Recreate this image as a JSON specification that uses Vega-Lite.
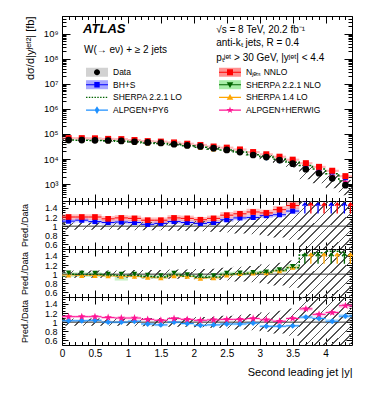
{
"$schema":"https://vega.github.io/schema/vega-lite/v6.json",
"padding":{"left":19,"top":15,"right":5,"bottom":5},
"background":"white",
"spacing":0,
"bounds":"flush",
"datasets":{
"bins":[
{"x":0.1,"xlo":0,"xhi":0.2,"d":57000,"mnn":68400,"mnnlo":61560,"mnnhi":75240,"mbh":63270,"ms2n":58710,"ms2l":57000,"ms14":55860,"mapy":58710,"mahw":63840,"rnn":1.2,"rbh":1.11,"rs2n":1.03,"rs2l":1.0,"rs14":0.98,"rapy":1.03,"rahw":1.12,"nnlo":1.14,"nnhi":1.26,"bhlo":1.06,"bhhi":1.16,"s2lo":0.94,"s2hi":1.04,"aplo":1.0,"aphi":1.06,"ahlo":1.09,"ahhi":1.15},
{"x":0.3,"xlo":0.2,"xhi":0.4,"d":57000,"mnn":68400,"mnnlo":61560,"mnnhi":75240,"mbh":64410,"ms2n":58140,"ms2l":56430,"ms14":55290,"mapy":58710,"mahw":63840,"rnn":1.2,"rbh":1.13,"rs2n":1.02,"rs2l":0.99,"rs14":0.97,"rapy":1.03,"rahw":1.12,"nnlo":1.14,"nnhi":1.26,"bhlo":1.08,"bhhi":1.18,"s2lo":0.94,"s2hi":1.04,"aplo":1.0,"aphi":1.06,"ahlo":1.09,"ahhi":1.15},
{"x":0.5,"xlo":0.4,"xhi":0.6,"d":56000,"mnn":67200,"mnnlo":60480,"mnnhi":73920,"mbh":61600,"ms2n":57120,"ms2l":55440,"ms14":54320,"mapy":58240,"mahw":62720,"rnn":1.2,"rbh":1.1,"rs2n":1.02,"rs2l":0.99,"rs14":0.97,"rapy":1.04,"rahw":1.12,"nnlo":1.14,"nnhi":1.26,"bhlo":1.05,"bhhi":1.15,"s2lo":0.94,"s2hi":1.04,"aplo":1.01,"aphi":1.07,"ahlo":1.09,"ahhi":1.15},
{"x":0.7,"xlo":0.6,"xhi":0.8,"d":55000,"mnn":63800,"mnnlo":57420,"mnnhi":70180,"mbh":59400,"ms2n":55000,"ms2l":53900,"ms14":52800,"mapy":55000,"mahw":60500,"rnn":1.16,"rbh":1.08,"rs2n":1.0,"rs2l":0.98,"rs14":0.96,"rapy":1.0,"rahw":1.1,"nnlo":1.1,"nnhi":1.22,"bhlo":1.03,"bhhi":1.13,"s2lo":0.94,"s2hi":1.02,"aplo":0.97,"aphi":1.03,"ahlo":1.07,"ahhi":1.13},
{"x":0.9,"xlo":0.8,"xhi":1.0,"d":53000,"mnn":62540,"mnnlo":56286,"mnnhi":68794,"mbh":57770,"ms2n":53000,"ms2l":51410,"ms14":50350,"mapy":53000,"mahw":57770,"rnn":1.18,"rbh":1.09,"rs2n":1.0,"rs2l":0.97,"rs14":0.95,"rapy":1.0,"rahw":1.09,"nnlo":1.12,"nnhi":1.24,"bhlo":1.04,"bhhi":1.14,"s2lo":0.86,"s2hi":0.98,"aplo":0.97,"aphi":1.03,"ahlo":1.06,"ahhi":1.12},
{"x":1.1,"xlo":1.0,"xhi":1.2,"d":49000,"mnn":57330,"mnnlo":51597,"mnnhi":63063,"mbh":52920,"ms2n":49000,"ms2l":47530,"ms14":46550,"mapy":49980,"mahw":53410,"rnn":1.17,"rbh":1.08,"rs2n":1.0,"rs2l":0.97,"rs14":0.95,"rapy":1.02,"rahw":1.09,"nnlo":1.11,"nnhi":1.23,"bhlo":1.03,"bhhi":1.13,"s2lo":0.93,"s2hi":1.02,"aplo":0.99,"aphi":1.05,"ahlo":1.06,"ahhi":1.12},
{"x":1.3,"xlo":1.2,"xhi":1.4,"d":46000,"mnn":51980,"mnnlo":46782,"mnnhi":57178,"mbh":47840,"ms2n":45080,"ms2l":43700,"ms14":42780,"mapy":44160,"mahw":48760,"rnn":1.13,"rbh":1.04,"rs2n":0.98,"rs2l":0.95,"rs14":0.93,"rapy":0.96,"rahw":1.06,"nnlo":1.07,"nnhi":1.19,"bhlo":0.99,"bhhi":1.09,"s2lo":0.9,"s2hi":0.99,"aplo":0.93,"aphi":0.99,"ahlo":1.03,"ahhi":1.09},
{"x":1.5,"xlo":1.4,"xhi":1.6,"d":44000,"mnn":49720,"mnnlo":44748,"mnnhi":54692,"mbh":46640,"ms2n":42680,"ms2l":41360,"ms14":40480,"mapy":41360,"mahw":45760,"rnn":1.13,"rbh":1.06,"rs2n":0.97,"rs2l":0.94,"rs14":0.92,"rapy":0.94,"rahw":1.04,"nnlo":1.07,"nnhi":1.19,"bhlo":1.01,"bhhi":1.11,"s2lo":0.9,"s2hi":0.98,"aplo":0.91,"aphi":0.97,"ahlo":1.01,"ahhi":1.07},
{"x":1.7,"xlo":1.6,"xhi":1.8,"d":39000,"mnn":46020,"mnnlo":41418,"mnnhi":50622,"mbh":42900,"ms2n":39780,"ms2l":38220,"ms14":37440,"mapy":39000,"mahw":42120,"rnn":1.18,"rbh":1.1,"rs2n":1.02,"rs2l":0.98,"rs14":0.96,"rapy":1.0,"rahw":1.08,"nnlo":1.12,"nnhi":1.24,"bhlo":1.05,"bhhi":1.15,"s2lo":0.94,"s2hi":1.04,"aplo":0.97,"aphi":1.03,"ahlo":1.05,"ahhi":1.11},
{"x":1.9,"xlo":1.8,"xhi":2.0,"d":35000,"mnn":40950,"mnnlo":36855,"mnnhi":45045,"mbh":37800,"ms2n":34650,"ms2l":33600,"ms14":33250,"mapy":33950,"mahw":37100,"rnn":1.17,"rbh":1.08,"rs2n":0.99,"rs2l":0.96,"rs14":0.95,"rapy":0.97,"rahw":1.06,"nnlo":1.11,"nnhi":1.23,"bhlo":1.03,"bhhi":1.13,"s2lo":0.93,"s2hi":1.01,"aplo":0.94,"aphi":1.0,"ahlo":1.03,"ahhi":1.09},
{"x":2.1,"xlo":2.0,"xhi":2.2,"d":32000,"mnn":36480,"mnnlo":32832,"mnnhi":40128,"mbh":33920,"ms2n":30720,"ms2l":29760,"ms14":29120,"mapy":29760,"mahw":33280,"rnn":1.14,"rbh":1.06,"rs2n":0.96,"rs2l":0.93,"rs14":0.91,"rapy":0.93,"rahw":1.04,"nnlo":1.08,"nnhi":1.2,"bhlo":1.01,"bhhi":1.11,"s2lo":0.89,"s2hi":0.98,"aplo":0.9,"aphi":0.96,"ahlo":1.01,"ahhi":1.07},
{"x":2.3,"xlo":2.2,"xhi":2.4,"d":27000,"mnn":31590,"mnnlo":28431,"mnnhi":34749,"mbh":29160,"ms2n":26190,"ms2l":25380,"ms14":24840,"mapy":25380,"mahw":28350,"rnn":1.17,"rbh":1.08,"rs2n":0.97,"rs2l":0.94,"rs14":0.92,"rapy":0.94,"rahw":1.05,"nnlo":1.11,"nnhi":1.23,"bhlo":1.03,"bhhi":1.13,"s2lo":0.9,"s2hi":0.99,"aplo":0.91,"aphi":0.97,"ahlo":1.02,"ahhi":1.08},
{"x":2.5,"xlo":2.4,"xhi":2.6,"d":23000,"mnn":28520,"mnnlo":25668,"mnnhi":31372,"mbh":26220,"ms2n":23460,"ms2l":22770,"ms14":22540,"mapy":22080,"mahw":24380,"rnn":1.24,"rbh":1.14,"rs2n":1.02,"rs2l":0.99,"rs14":0.98,"rapy":0.96,"rahw":1.06,"nnlo":1.17,"nnhi":1.31,"bhlo":1.09,"bhhi":1.19,"s2lo":0.96,"s2hi":1.05,"aplo":0.93,"aphi":0.99,"ahlo":1.03,"ahhi":1.09},
{"x":2.7,"xlo":2.6,"xhi":2.8,"d":19000,"mnn":24130,"mnnlo":21717,"mnnhi":26543,"mbh":22420,"ms2n":19570,"ms2l":19190,"ms14":19190,"mapy":18240,"mahw":20140,"rnn":1.27,"rbh":1.18,"rs2n":1.03,"rs2l":1.01,"rs14":1.01,"rapy":0.96,"rahw":1.06,"nnlo":1.2,"nnhi":1.34,"bhlo":1.13,"bhhi":1.23,"s2lo":0.97,"s2hi":1.06,"aplo":0.93,"aphi":0.99,"ahlo":1.03,"ahhi":1.09},
{"x":2.9,"xlo":2.8,"xhi":3.0,"d":14500,"mnn":18995,"mnnlo":17096,"mnnhi":20895,"mbh":17255,"ms2n":15080,"ms2l":14790,"ms14":14790,"mapy":14210,"mahw":15660,"rnn":1.31,"rbh":1.19,"rs2n":1.04,"rs2l":1.02,"rs14":1.02,"rapy":0.98,"rahw":1.08,"nnlo":1.24,"nnhi":1.38,"bhlo":1.14,"bhhi":1.24,"s2lo":0.98,"s2hi":1.07,"aplo":0.95,"aphi":1.01,"ahlo":1.05,"ahhi":1.11},
{"x":3.1,"xlo":3.0,"xhi":3.2,"d":12000,"mnn":15480,"mnnlo":13932,"mnnhi":17028,"mbh":14760,"ms2n":12600,"ms2l":12480,"ms14":12360,"mapy":10920,"mahw":12600,"rnn":1.29,"rbh":1.23,"rs2n":1.05,"rs2l":1.04,"rs14":1.03,"rapy":0.91,"rahw":1.05,"nnlo":1.22,"nnhi":1.36,"bhlo":1.18,"bhhi":1.28,"s2lo":0.99,"s2hi":1.08,"aplo":0.88,"aphi":0.94,"ahlo":1.02,"ahhi":1.08},
{"x":3.3,"xlo":3.2,"xhi":3.4,"d":9100,"mnn":12376,"mnnlo":11138,"mnnhi":13614,"mbh":11375,"ms2n":10010,"ms2l":9828,"ms14":9737,"mapy":8281,"mahw":9282,"rnn":1.36,"rbh":1.25,"rs2n":1.1,"rs2l":1.08,"rs14":1.07,"rapy":0.91,"rahw":1.02,"nnlo":1.28,"nnhi":1.44,"bhlo":1.2,"bhhi":1.3,"s2lo":1.04,"s2hi":1.14,"aplo":0.88,"aphi":0.94,"ahlo":0.99,"ahhi":1.05},
{"x":3.5,"xlo":3.4,"xhi":3.6,"d":6500,"mnn":9425,"mnnlo":8483,"mnnhi":10368,"mbh":8645,"ms2n":7605,"ms2l":7410,"ms14":7475,"mapy":5980,"mahw":7020,"rnn":1.45,"rbh":1.33,"rs2n":1.17,"rs2l":1.14,"rs14":1.15,"rapy":0.92,"rahw":1.08,"nnlo":1.37,"nnhi":1.53,"bhlo":1.27,"bhhi":1.39,"s2lo":1.1,"s2hi":1.22,"aplo":0.89,"aphi":0.95,"ahlo":1.05,"ahhi":1.11},
{"x":3.7,"xlo":3.6,"xhi":3.8,"d":3900,"mnn":6825,"mnnlo":6143,"mnnhi":7508,"mbh":6240,"ms2n":6240,"ms2l":5538,"ms14":6435,"mapy":4329,"mahw":5031,"rnn":1.75,"rbh":1.6,"rs2n":1.6,"rs2l":1.42,"rs14":1.65,"rapy":1.11,"rahw":1.29,"nnlo":1.6,"nnhi":1.9,"bhlo":1.6,"bhhi":1.9,"s2lo":1.6,"s2hi":1.9,"aplo":1.07,"aphi":1.15,"ahlo":1.25,"ahhi":1.33},
{"x":3.9,"xlo":3.8,"xhi":4.0,"d":2700,"mnn":4860,"mnnlo":4374,"mnnhi":5346,"mbh":4455,"ms2n":4455,"ms2l":3969,"ms14":4590,"mapy":2916,"mahw":3159,"rnn":1.8,"rbh":1.65,"rs2n":1.65,"rs2l":1.47,"rs14":1.7,"rapy":1.08,"rahw":1.17,"nnlo":1.6,"nnhi":1.9,"bhlo":1.6,"bhhi":1.9,"s2lo":1.6,"s2hi":1.9,"aplo":1.04,"aphi":1.12,"ahlo":1.13,"ahhi":1.21},
{"x":4.1,"xlo":4.0,"xhi":4.2,"d":1700,"mnn":3400,"mnnlo":3060,"mnnhi":3740,"mbh":3060,"ms2n":3145,"ms2l":2550,"ms14":3230,"mapy":1734,"mahw":2057,"rnn":2.0,"rbh":1.8,"rs2n":1.85,"rs2l":1.5,"rs14":1.9,"rapy":1.02,"rahw":1.21,"nnlo":1.6,"nnhi":1.9,"bhlo":1.6,"bhhi":1.9,"s2lo":1.6,"s2hi":1.9,"aplo":0.97,"aphi":1.07,"ahlo":1.17,"ahhi":1.25},
{"x":4.3,"xlo":4.2,"xhi":4.4,"d":900,"mnn":2070,"mnnlo":1863,"mnnhi":2277,"mbh":1800,"ms2n":1800,"ms2l":1332,"ms14":1890,"mapy":1017,"mahw":1224,"rnn":2.3,"rbh":2.0,"rs2n":2.0,"rs2l":1.48,"rs14":2.1,"rapy":1.13,"rahw":1.36,"nnlo":1.6,"nnhi":1.9,"bhlo":1.6,"bhhi":1.9,"s2lo":1.6,"s2hi":1.9,"aplo":1.08,"aphi":1.18,"ahlo":1.31,"ahhi":1.41}
],
"hatch":[
{"xe":0,"dlo":52440,"dhi":61560,"elo":0.92,"ehi":1.08},
{"xe":0.2,"dlo":52440,"dhi":61560,"elo":0.92,"ehi":1.08},
{"xe":0.4,"dlo":51520,"dhi":60480,"elo":0.92,"ehi":1.08},
{"xe":0.6,"dlo":50600,"dhi":59400,"elo":0.92,"ehi":1.08},
{"xe":0.8,"dlo":48760,"dhi":57240,"elo":0.92,"ehi":1.08},
{"xe":1.0,"dlo":44590,"dhi":53410,"elo":0.91,"ehi":1.09},
{"xe":1.2,"dlo":41860,"dhi":50140,"elo":0.91,"ehi":1.09},
{"xe":1.4,"dlo":40040,"dhi":47960,"elo":0.91,"ehi":1.09},
{"xe":1.6,"dlo":35100,"dhi":42900,"elo":0.9,"ehi":1.1},
{"xe":1.8,"dlo":31500,"dhi":38500,"elo":0.9,"ehi":1.1},
{"xe":2.0,"dlo":28480,"dhi":35520,"elo":0.89,"ehi":1.11},
{"xe":2.2,"dlo":23760,"dhi":30240,"elo":0.88,"ehi":1.12},
{"xe":2.4,"dlo":19780,"dhi":26220,"elo":0.86,"ehi":1.14},
{"xe":2.6,"dlo":15960,"dhi":22040,"elo":0.84,"ehi":1.16},
{"xe":2.8,"dlo":11890,"dhi":17110,"elo":0.82,"ehi":1.18},
{"xe":3.0,"dlo":9480,"dhi":14520,"elo":0.79,"ehi":1.21},
{"xe":3.2,"dlo":6825,"dhi":11375,"elo":0.75,"ehi":1.25},
{"xe":3.4,"dlo":4550,"dhi":8450,"elo":0.7,"ehi":1.3},
{"xe":3.6,"dlo":1560,"dhi":6240,"elo":0.4,"ehi":1.6},
{"xe":3.8,"dlo":1080,"dhi":4320,"elo":0.4,"ehi":1.6},
{"xe":4.0,"dlo":680,"dhi":2720,"elo":0.4,"ehi":1.6},
{"xe":4.2,"dlo":360,"dhi":1440,"elo":0.4,"ehi":1.6},
{"xe":4.4,"dlo":360,"dhi":1440,"elo":0.4,"ehi":1.6}
],
"legA":[{"b":"0"},{"b":"1"},{"b":"2"},{"b":"3"},{"b":"4"},{"b":"5"},{"b":"6"},{"b":"7"}],
"legB":[{"s":"Data"},{"s":"BH+S"},{"s":"SHERPA 2.2.1 LO"},{"s":"ALPGEN+PY6"},{"s":"Nⱼₑₜₛ NNLO"},{"s":"SHERPA 2.2.1 NLO"},{"s":"SHERPA 1.4 LO"},{"s":"ALPGEN+HERWIG"}]
},
"config":{
"view":{"stroke":"#000","strokeWidth":1},
"axis":{"domain":false,"grid":false,"ticks":true,"tickColor":"#000","tickWidth":1,"labelFont":"Liberation Sans","labelFontSize":10,"labelColor":"#000","labelFlush":false,"labelOverlap":false,"titleFont":"Liberation Sans","titleFontSize":11,"titleFontWeight":"normal","titleColor":"#000"},
"legend":{"labelFont":"Liberation Sans","labelFontSize":8.5,"labelColor":"#000"},
"text":{"font":"Liberation Sans","color":"#000"}
},
"vconcat":[
{
"width":290,"height":185,
"resolve":{"axis":{"x":"independent","y":"independent"}},
"layer":[
{"data":{"name":"bins"},"mark":{"type":"point","opacity":0},"encoding":{
"x":{"field":"x","type":"quantitative","scale":{"domain":[0,4.4],"nice":false,"zero":false},"axis":{"orient":"bottom","values":[0,0.5,1,1.5,2,2.5,3,3.5,4],"labels":false,"tickSize":-7,"title":null}},
"y":{"field":"d","type":"quantitative","scale":{"type":"log","domain":[210,5200000000],"nice":false},"axis":{"orient":"left","values":[1000,10000,100000,1000000,10000000,100000000,1000000000],"tickSize":-8,"labelPadding":12,"labelFontSize":9.5,"labelExpr":"'10' + ['⁰','¹','²','³','⁴','⁵','⁶','⁷','⁸','⁹'][round(log(datum.value)/LN10)]","title":"dσ/d|yʲᵉᵗ²| [fb]","titleAnchor":"end","titlePadding":8}}}},
{"data":{"name":"bins"},"mark":{"type":"point","opacity":0},"encoding":{
"x":{"field":"x","type":"quantitative","axis":{"orient":"bottom","values":[0.1,0.2,0.3,0.4,0.6,0.7,0.8,0.9,1.1,1.2,1.3,1.4,1.6,1.7,1.8,1.9,2.1,2.2,2.3,2.4,2.6,2.7,2.8,2.9,3.1,3.2,3.3,3.4,3.6,3.7,3.8,3.9,4.1,4.2,4.3],"labels":false,"tickSize":-3.5,"title":null}},
"y":{"field":"d","type":"quantitative","axis":{"orient":"left","values":[300,400,500,600,700,800,900,2000,3000,4000,5000,6000,7000,8000,9000,20000,30000,40000,50000,60000,70000,80000,90000,200000,300000,400000,500000,600000,700000,800000,900000,2e6,3e6,4e6,5e6,6e6,7e6,8e6,9e6,2e7,3e7,4e7,5e7,6e7,7e7,8e7,9e7,2e8,3e8,4e8,5e8,6e8,7e8,8e8,9e8,2e9,3e9,4e9,5e9],"labels":false,"tickSize":-4,"title":null}}}},
{"data":{"name":"bins"},"mark":{"type":"point","opacity":0},"encoding":{
"x":{"field":"x","type":"quantitative","axis":{"orient":"top","values":[0,0.5,1,1.5,2,2.5,3,3.5,4],"labels":false,"tickSize":-7,"title":null}},
"y":{"field":"d","type":"quantitative","axis":{"orient":"right","values":[1000,10000,100000,1000000,10000000,100000000,1000000000],"labels":false,"tickSize":-8,"title":null}}}},
{"data":{"name":"bins"},"mark":{"type":"point","opacity":0},"encoding":{
"x":{"field":"x","type":"quantitative","axis":{"orient":"top","values":[0.1,0.2,0.3,0.4,0.6,0.7,0.8,0.9,1.1,1.2,1.3,1.4,1.6,1.7,1.8,1.9,2.1,2.2,2.3,2.4,2.6,2.7,2.8,2.9,3.1,3.2,3.3,3.4,3.6,3.7,3.8,3.9,4.1,4.2,4.3],"labels":false,"tickSize":-3.5,"title":null}},
"y":{"field":"d","type":"quantitative","axis":{"orient":"right","values":[300,400,500,600,700,800,900,2000,3000,4000,5000,6000,7000,8000,9000,20000,30000,40000,50000,60000,70000,80000,90000,200000,300000,400000,500000,600000,700000,800000,900000,2e6,3e6,4e6,5e6,6e6,7e6,8e6,9e6,2e7,3e7,4e7,5e7,6e7,7e7,8e7,9e7,2e8,3e8,4e8,5e8,6e8,7e8,8e8,9e8,2e9,3e9,4e9,5e9],"labels":false,"tickSize":-4,"title":null}}}},
{"data":{"name":"bins"},"mark":{"type":"rect","color":"#ff7070","opacity":0.5,"clip":true},"encoding":{"x":{"field":"xlo","type":"quantitative","axis":null},"x2":{"field":"xhi"},"y":{"field":"mnnlo","type":"quantitative","axis":null},"y2":{"field":"mnnhi"}}},
{"data":{"name":"hatch"},"mark":{"type":"area","interpolate":"step-after","clip":true,"fill":{"gradient":"linear","x1":0,"y1":0,"x2":1.15,"y2":0.22,"stops":[
{"offset":0,"color":"#555"},{"offset":0.005,"color":"#555"},{"offset":0.005,"color":"transparent"},{"offset":0.025,"color":"transparent"},
{"offset":0.025,"color":"#555"},{"offset":0.03,"color":"#555"},{"offset":0.03,"color":"transparent"},{"offset":0.05,"color":"transparent"},
{"offset":0.05,"color":"#555"},{"offset":0.055,"color":"#555"},{"offset":0.055,"color":"transparent"},{"offset":0.075,"color":"transparent"},
{"offset":0.075,"color":"#555"},{"offset":0.08,"color":"#555"},{"offset":0.08,"color":"transparent"},{"offset":0.1,"color":"transparent"},
{"offset":0.1,"color":"#555"},{"offset":0.105,"color":"#555"},{"offset":0.105,"color":"transparent"},{"offset":0.125,"color":"transparent"},
{"offset":0.125,"color":"#555"},{"offset":0.13,"color":"#555"},{"offset":0.13,"color":"transparent"},{"offset":0.15,"color":"transparent"},
{"offset":0.15,"color":"#555"},{"offset":0.155,"color":"#555"},{"offset":0.155,"color":"transparent"},{"offset":0.175,"color":"transparent"},
{"offset":0.175,"color":"#555"},{"offset":0.18,"color":"#555"},{"offset":0.18,"color":"transparent"},{"offset":0.2,"color":"transparent"},
{"offset":0.2,"color":"#555"},{"offset":0.205,"color":"#555"},{"offset":0.205,"color":"transparent"},{"offset":0.225,"color":"transparent"},
{"offset":0.225,"color":"#555"},{"offset":0.23,"color":"#555"},{"offset":0.23,"color":"transparent"},{"offset":0.25,"color":"transparent"},
{"offset":0.25,"color":"#555"},{"offset":0.255,"color":"#555"},{"offset":0.255,"color":"transparent"},{"offset":0.275,"color":"transparent"},
{"offset":0.275,"color":"#555"},{"offset":0.28,"color":"#555"},{"offset":0.28,"color":"transparent"},{"offset":0.3,"color":"transparent"},
{"offset":0.3,"color":"#555"},{"offset":0.305,"color":"#555"},{"offset":0.305,"color":"transparent"},{"offset":0.325,"color":"transparent"},
{"offset":0.325,"color":"#555"},{"offset":0.33,"color":"#555"},{"offset":0.33,"color":"transparent"},{"offset":0.35,"color":"transparent"},
{"offset":0.35,"color":"#555"},{"offset":0.355,"color":"#555"},{"offset":0.355,"color":"transparent"},{"offset":0.375,"color":"transparent"},
{"offset":0.375,"color":"#555"},{"offset":0.38,"color":"#555"},{"offset":0.38,"color":"transparent"},{"offset":0.4,"color":"transparent"},
{"offset":0.4,"color":"#555"},{"offset":0.405,"color":"#555"},{"offset":0.405,"color":"transparent"},{"offset":0.425,"color":"transparent"},
{"offset":0.425,"color":"#555"},{"offset":0.43,"color":"#555"},{"offset":0.43,"color":"transparent"},{"offset":0.45,"color":"transparent"},
{"offset":0.45,"color":"#555"},{"offset":0.455,"color":"#555"},{"offset":0.455,"color":"transparent"},{"offset":0.475,"color":"transparent"},
{"offset":0.475,"color":"#555"},{"offset":0.48,"color":"#555"},{"offset":0.48,"color":"transparent"},{"offset":0.5,"color":"transparent"},
{"offset":0.5,"color":"#555"},{"offset":0.505,"color":"#555"},{"offset":0.505,"color":"transparent"},{"offset":0.525,"color":"transparent"},
{"offset":0.525,"color":"#555"},{"offset":0.53,"color":"#555"},{"offset":0.53,"color":"transparent"},{"offset":0.55,"color":"transparent"},
{"offset":0.55,"color":"#555"},{"offset":0.555,"color":"#555"},{"offset":0.555,"color":"transparent"},{"offset":0.575,"color":"transparent"},
{"offset":0.575,"color":"#555"},{"offset":0.58,"color":"#555"},{"offset":0.58,"color":"transparent"},{"offset":0.6,"color":"transparent"},
{"offset":0.6,"color":"#555"},{"offset":0.605,"color":"#555"},{"offset":0.605,"color":"transparent"},{"offset":0.625,"color":"transparent"},
{"offset":0.625,"color":"#555"},{"offset":0.63,"color":"#555"},{"offset":0.63,"color":"transparent"},{"offset":0.65,"color":"transparent"},
{"offset":0.65,"color":"#555"},{"offset":0.655,"color":"#555"},{"offset":0.655,"color":"transparent"},{"offset":0.675,"color":"transparent"},
{"offset":0.675,"color":"#555"},{"offset":0.68,"color":"#555"},{"offset":0.68,"color":"transparent"},{"offset":0.7,"color":"transparent"},
{"offset":0.7,"color":"#555"},{"offset":0.705,"color":"#555"},{"offset":0.705,"color":"transparent"},{"offset":0.725,"color":"transparent"},
{"offset":0.725,"color":"#555"},{"offset":0.73,"color":"#555"},{"offset":0.73,"color":"transparent"},{"offset":0.75,"color":"transparent"},
{"offset":0.75,"color":"#555"},{"offset":0.755,"color":"#555"},{"offset":0.755,"color":"transparent"},{"offset":0.775,"color":"transparent"},
{"offset":0.775,"color":"#555"},{"offset":0.78,"color":"#555"},{"offset":0.78,"color":"transparent"},{"offset":0.8,"color":"transparent"},
{"offset":0.8,"color":"#555"},{"offset":0.805,"color":"#555"},{"offset":0.805,"color":"transparent"},{"offset":0.825,"color":"transparent"},
{"offset":0.825,"color":"#555"},{"offset":0.83,"color":"#555"},{"offset":0.83,"color":"transparent"},{"offset":0.85,"color":"transparent"},
{"offset":0.85,"color":"#555"},{"offset":0.855,"color":"#555"},{"offset":0.855,"color":"transparent"},{"offset":0.875,"color":"transparent"},
{"offset":0.875,"color":"#555"},{"offset":0.88,"color":"#555"},{"offset":0.88,"color":"transparent"},{"offset":0.9,"color":"transparent"},
{"offset":0.9,"color":"#555"},{"offset":0.905,"color":"#555"},{"offset":0.905,"color":"transparent"},{"offset":0.925,"color":"transparent"},
{"offset":0.925,"color":"#555"},{"offset":0.93,"color":"#555"},{"offset":0.93,"color":"transparent"},{"offset":0.95,"color":"transparent"},
{"offset":0.95,"color":"#555"},{"offset":0.955,"color":"#555"},{"offset":0.955,"color":"transparent"},{"offset":0.975,"color":"transparent"},
{"offset":0.975,"color":"#555"},{"offset":0.98,"color":"#555"},{"offset":0.98,"color":"transparent"},{"offset":1,"color":"transparent"}
]}},"encoding":{"x":{"field":"xe","type":"quantitative","axis":null},"y":{"field":"dlo","type":"quantitative","axis":null},"y2":{"field":"dhi"}}},
{"data":{"name":"bins"},"mark":{"type":"line","color":"#006400","strokeDash":[2,1.5],"strokeWidth":1.5,"interpolate":"step","clip":true},"encoding":{"x":{"field":"x","type":"quantitative","axis":null},"y":{"field":"ms2l","type":"quantitative","axis":null}}},
{"data":{"name":"bins"},"mark":{"type":"point","shape":"triangle-up","filled":true,"color":"#ffa500","size":28,"opacity":1,"clip":true},"encoding":{"x":{"field":"x","type":"quantitative","axis":null},"y":{"field":"ms14","type":"quantitative","axis":null}}},
{"data":{"name":"bins"},"mark":{"type":"point","shape":"triangle-down","filled":true,"color":"#006400","size":28,"opacity":1,"clip":true},"encoding":{"x":{"field":"x","type":"quantitative","axis":null},"y":{"field":"ms2n","type":"quantitative","axis":null}}},
{"data":{"name":"bins"},"mark":{"type":"point","shape":"diamond","filled":true,"color":"#1e90ff","size":30,"opacity":1,"clip":true},"encoding":{"x":{"field":"x","type":"quantitative","axis":null},"y":{"field":"mapy","type":"quantitative","axis":null}}},
{"data":{"name":"bins"},"mark":{"type":"point","shape":"M0,-1L0.235,-0.324L0.951,-0.309L0.38,0.124L0.588,0.809L0,0.4L-0.588,0.809L-0.38,0.124L-0.951,-0.309L-0.235,-0.324Z","filled":true,"color":"#ff1493","size":55,"opacity":1,"clip":true},"encoding":{"x":{"field":"x","type":"quantitative","axis":null},"y":{"field":"mahw","type":"quantitative","axis":null}}},
{"data":{"name":"bins"},"mark":{"type":"point","shape":"square","filled":true,"color":"#0000ff","size":26,"opacity":1,"clip":true},"encoding":{"x":{"field":"x","type":"quantitative","axis":null},"y":{"field":"mbh","type":"quantitative","axis":null}}},
{"data":{"name":"bins"},"mark":{"type":"point","shape":"square","filled":true,"color":"#ff0000","size":36,"opacity":1,"clip":true},"encoding":{"x":{"field":"x","type":"quantitative","axis":null},"y":{"field":"mnn","type":"quantitative","axis":null}}},
{"data":{"name":"bins"},"mark":{"type":"point","shape":"circle","filled":true,"color":"#000000","size":45,"opacity":1,"clip":true},"encoding":{"x":{"field":"x","type":"quantitative","axis":null},"y":{"field":"d","type":"quantitative","axis":null}}},
{"data":{"values":[{}]},"mark":{"type":"text","text":"ATLAS","fontSize":13,"fontWeight":"bold","fontStyle":"italic","align":"left","baseline":"alphabetic"},"encoding":{"x":{"datum":0.32,"type":"quantitative","axis":null},"y":{"datum":1060000000,"type":"quantitative","axis":null}}},
{"data":{"values":[{}]},"mark":{"type":"text","text":"W(→ eν) + ≥ 2 jets","fontSize":10,"align":"left","baseline":"alphabetic"},"encoding":{"x":{"datum":0.334,"type":"quantitative","axis":null},"y":{"datum":180000000,"type":"quantitative","axis":null}}},
{"data":{"values":[{}]},"mark":{"type":"text","text":"√s = 8 TeV, 20.2 fb⁻¹","fontSize":10,"align":"left","baseline":"alphabetic"},"encoding":{"x":{"datum":2.34,"type":"quantitative","axis":null},"y":{"datum":1120000000,"type":"quantitative","axis":null}}},
{"data":{"values":[{}]},"mark":{"type":"text","text":"anti-kₜ jets, R = 0.4","fontSize":10,"align":"left","baseline":"alphabetic"},"encoding":{"x":{"datum":2.34,"type":"quantitative","axis":null},"y":{"datum":320000000,"type":"quantitative","axis":null}}},
{"data":{"values":[{}]},"mark":{"type":"text","text":"pₜʲᵉᵗ > 30 GeV, |yʲᵉᵗ| < 4.4","fontSize":10,"align":"left","baseline":"alphabetic"},"encoding":{"x":{"datum":2.34,"type":"quantitative","axis":null},"y":{"datum":79000000,"type":"quantitative","axis":null}}},
{"data":{"name":"legA"},"mark":{"type":"point","filled":true,"opacity":1,"size":144},"encoding":{"x":{"field":"x","type":"quantitative","axis":null},"y":{"field":"d","type":"quantitative","axis":null},
"color":{"field":"b","type":"nominal","scale":{"domain":["0","1","2","3","4","5","6","7"],"range":["#d2d2d2","#a8a8ff","transparent","transparent","#ff9090","#a8eea8","transparent","transparent"]},
"legend":{"orient":"none","legendX":29,"legendY":50,"columns":2,"columnPadding":36,"rowPadding":1.7,"symbolType":"M-1.83,-0.75H1.83V0.75H-1.83Z","symbolSize":144,"symbolStrokeWidth":0,"labelOffset":10,"labelOpacity":0,"title":null,"padding":0,"labelExpr":"['Data','BH+S','SHERPA 2.2.1 LO','ALPGEN+PY6','Nⱼₑₜₛ NNLO','SHERPA 2.2.1 NLO','SHERPA 1.4 LO','ALPGEN+HERWIG'][toNumber(datum.label)]"}}}},
{"data":{"name":"legB"},"mark":{"type":"point","filled":true,"opacity":1,"size":144},"encoding":{"x":{"field":"x","type":"quantitative","axis":null},"y":{"field":"d","type":"quantitative","axis":null},
"fill":{"field":"s","type":"nominal","scale":{"domain":["Data","BH+S","SHERPA 2.2.1 LO","ALPGEN+PY6","Nⱼₑₜₛ NNLO","SHERPA 2.2.1 NLO","SHERPA 1.4 LO","ALPGEN+HERWIG"],"range":["#000000","#0000ff","#006400","#1e90ff","#ff0000","#006400","#ffa500","#ff1493"]},
"legend":{"orient":"none","legendX":29,"legendY":50,"columns":2,"columnPadding":36,"rowPadding":1.7,"symbolSize":144,"symbolStrokeWidth":0,"labelOffset":10,"title":null,"padding":0}},
"shape":{"field":"s","type":"nominal","scale":{"domain":["Data","BH+S","SHERPA 2.2.1 LO","ALPGEN+PY6","Nⱼₑₜₛ NNLO","SHERPA 2.2.1 NLO","SHERPA 1.4 LO","ALPGEN+HERWIG"],"range":[
"M-0.5,0A0.5,0.5 0 1,1 0.5,0A0.5,0.5 0 1,1 -0.5,0Z",
"M-1.83,-0.09H1.83V0.09H-1.83ZM-0.45,-0.45H0.45V0.45H-0.45Z",
"M-1.83,-0.11h0.24v0.22h-0.24ZM-1.36,-0.11h0.24v0.22h-0.24ZM-0.89,-0.11h0.24v0.22h-0.24ZM-0.42,-0.11h0.24v0.22h-0.24ZM0.05,-0.11h0.24v0.22h-0.24ZM0.52,-0.11h0.24v0.22h-0.24ZM0.99,-0.11h0.24v0.22h-0.24ZM1.46,-0.11h0.24v0.22h-0.24Z",
"M-1.83,-0.09H1.83V0.09H-1.83ZM0,-0.65L0.4,0L0,0.65L-0.4,0Z",
"M-1.83,-0.09H1.83V0.09H-1.83ZM-0.5,-0.5H0.5V0.5H-0.5Z",
"M-1.83,-0.09H1.83V0.09H-1.83ZM-0.55,-0.4H0.55L0,0.55Z",
"M-1.83,-0.09H1.83V0.09H-1.83ZM0.55,0.4H-0.55L0,-0.55Z",
"M-1.83,-0.09H1.83V0.09H-1.83ZM0,-0.6L0.141,-0.194L0.571,-0.185L0.228,0.074L0.353,0.485L0,0.24L-0.353,0.485L-0.228,0.074L-0.571,-0.185L-0.141,-0.194Z"]},
"legend":{"orient":"none","legendX":29,"legendY":50,"columns":2,"columnPadding":36,"rowPadding":1.7,"symbolSize":144,"symbolStrokeWidth":0,"labelOffset":10,"title":null,"padding":0}}}}
]
},
{
"width":290,"height":48,
"resolve":{"axis":{"x":"independent","y":"independent"}},
"layer":[
{"data":{"name":"bins"},"mark":{"type":"point","opacity":0},"encoding":{
"x":{"field":"x","type":"quantitative","scale":{"domain":[0,4.4],"nice":false,"zero":false},"axis":{"orient":"bottom","values":[0,0.5,1,1.5,2,2.5,3,3.5,4],"labels":false,"tickSize":-7,"title":null}},
"y":{"field":"rapy","type":"quantitative","scale":{"domain":[0.5,1.55],"nice":false,"zero":false},"axis":{"orient":"left","values":[0.6,0.8,1,1.2,1.4],"tickSize":-6,"labelPadding":11,"labelFontSize":9,"format":"~g","title":"Pred./Data","titleFontSize":9,"titlePadding":15}}}},
{"data":{"name":"bins"},"mark":{"type":"point","opacity":0},"encoding":{
"x":{"field":"x","type":"quantitative","axis":{"orient":"bottom","values":[0.1,0.2,0.3,0.4,0.6,0.7,0.8,0.9,1.1,1.2,1.3,1.4,1.6,1.7,1.8,1.9,2.1,2.2,2.3,2.4,2.6,2.7,2.8,2.9,3.1,3.2,3.3,3.4,3.6,3.7,3.8,3.9,4.1,4.2,4.3],"labels":false,"tickSize":-3.5,"title":null}},
"y":{"field":"rapy","type":"quantitative","axis":{"orient":"left","values":[0.55,0.65,0.7,0.75,0.85,0.9,0.95,1.05,1.1,1.15,1.25,1.3,1.35,1.45,1.5],"labels":false,"tickSize":-3,"title":null}}}},
{"data":{"name":"bins"},"mark":{"type":"point","opacity":0},"encoding":{
"x":{"field":"x","type":"quantitative","axis":{"orient":"top","values":[0,0.5,1,1.5,2,2.5,3,3.5,4],"labels":false,"tickSize":-7,"title":null}},
"y":{"field":"rapy","type":"quantitative","axis":{"orient":"right","values":[0.6,0.8,1,1.2,1.4],"labels":false,"tickSize":-6,"title":null}}}},
{"data":{"name":"bins"},"mark":{"type":"point","opacity":0},"encoding":{
"x":{"field":"x","type":"quantitative","axis":{"orient":"top","values":[0.1,0.2,0.3,0.4,0.6,0.7,0.8,0.9,1.1,1.2,1.3,1.4,1.6,1.7,1.8,1.9,2.1,2.2,2.3,2.4,2.6,2.7,2.8,2.9,3.1,3.2,3.3,3.4,3.6,3.7,3.8,3.9,4.1,4.2,4.3],"labels":false,"tickSize":-3.5,"title":null}},
"y":{"field":"rapy","type":"quantitative","axis":{"orient":"right","values":[0.55,0.65,0.7,0.75,0.85,0.9,0.95,1.05,1.1,1.15,1.25,1.3,1.35,1.45,1.5],"labels":false,"tickSize":-3,"title":null}}}},
{"data":{"name":"bins"},"mark":{"type":"rect","color":"#9090ff","opacity":0.45,"clip":true},"encoding":{"x":{"field":"xlo","type":"quantitative","axis":null},"x2":{"field":"xhi"},"y":{"field":"bhlo","type":"quantitative","axis":null},"y2":{"field":"bhhi"}}},
{"data":{"name":"bins"},"mark":{"type":"rect","color":"#ff7070","opacity":0.45,"clip":true},"encoding":{"x":{"field":"xlo","type":"quantitative","axis":null},"x2":{"field":"xhi"},"y":{"field":"nnlo","type":"quantitative","axis":null},"y2":{"field":"nnhi"}}},
{"data":{"name":"hatch"},"mark":{"type":"area","interpolate":"step-after","clip":true,"fill":{"gradient":"linear","x1":0,"y1":0,"x2":1.15,"y2":0.22,"stops":[
{"offset":0,"color":"#555"},{"offset":0.005,"color":"#555"},{"offset":0.005,"color":"transparent"},{"offset":0.025,"color":"transparent"},
{"offset":0.025,"color":"#555"},{"offset":0.03,"color":"#555"},{"offset":0.03,"color":"transparent"},{"offset":0.05,"color":"transparent"},
{"offset":0.05,"color":"#555"},{"offset":0.055,"color":"#555"},{"offset":0.055,"color":"transparent"},{"offset":0.075,"color":"transparent"},
{"offset":0.075,"color":"#555"},{"offset":0.08,"color":"#555"},{"offset":0.08,"color":"transparent"},{"offset":0.1,"color":"transparent"},
{"offset":0.1,"color":"#555"},{"offset":0.105,"color":"#555"},{"offset":0.105,"color":"transparent"},{"offset":0.125,"color":"transparent"},
{"offset":0.125,"color":"#555"},{"offset":0.13,"color":"#555"},{"offset":0.13,"color":"transparent"},{"offset":0.15,"color":"transparent"},
{"offset":0.15,"color":"#555"},{"offset":0.155,"color":"#555"},{"offset":0.155,"color":"transparent"},{"offset":0.175,"color":"transparent"},
{"offset":0.175,"color":"#555"},{"offset":0.18,"color":"#555"},{"offset":0.18,"color":"transparent"},{"offset":0.2,"color":"transparent"},
{"offset":0.2,"color":"#555"},{"offset":0.205,"color":"#555"},{"offset":0.205,"color":"transparent"},{"offset":0.225,"color":"transparent"},
{"offset":0.225,"color":"#555"},{"offset":0.23,"color":"#555"},{"offset":0.23,"color":"transparent"},{"offset":0.25,"color":"transparent"},
{"offset":0.25,"color":"#555"},{"offset":0.255,"color":"#555"},{"offset":0.255,"color":"transparent"},{"offset":0.275,"color":"transparent"},
{"offset":0.275,"color":"#555"},{"offset":0.28,"color":"#555"},{"offset":0.28,"color":"transparent"},{"offset":0.3,"color":"transparent"},
{"offset":0.3,"color":"#555"},{"offset":0.305,"color":"#555"},{"offset":0.305,"color":"transparent"},{"offset":0.325,"color":"transparent"},
{"offset":0.325,"color":"#555"},{"offset":0.33,"color":"#555"},{"offset":0.33,"color":"transparent"},{"offset":0.35,"color":"transparent"},
{"offset":0.35,"color":"#555"},{"offset":0.355,"color":"#555"},{"offset":0.355,"color":"transparent"},{"offset":0.375,"color":"transparent"},
{"offset":0.375,"color":"#555"},{"offset":0.38,"color":"#555"},{"offset":0.38,"color":"transparent"},{"offset":0.4,"color":"transparent"},
{"offset":0.4,"color":"#555"},{"offset":0.405,"color":"#555"},{"offset":0.405,"color":"transparent"},{"offset":0.425,"color":"transparent"},
{"offset":0.425,"color":"#555"},{"offset":0.43,"color":"#555"},{"offset":0.43,"color":"transparent"},{"offset":0.45,"color":"transparent"},
{"offset":0.45,"color":"#555"},{"offset":0.455,"color":"#555"},{"offset":0.455,"color":"transparent"},{"offset":0.475,"color":"transparent"},
{"offset":0.475,"color":"#555"},{"offset":0.48,"color":"#555"},{"offset":0.48,"color":"transparent"},{"offset":0.5,"color":"transparent"},
{"offset":0.5,"color":"#555"},{"offset":0.505,"color":"#555"},{"offset":0.505,"color":"transparent"},{"offset":0.525,"color":"transparent"},
{"offset":0.525,"color":"#555"},{"offset":0.53,"color":"#555"},{"offset":0.53,"color":"transparent"},{"offset":0.55,"color":"transparent"},
{"offset":0.55,"color":"#555"},{"offset":0.555,"color":"#555"},{"offset":0.555,"color":"transparent"},{"offset":0.575,"color":"transparent"},
{"offset":0.575,"color":"#555"},{"offset":0.58,"color":"#555"},{"offset":0.58,"color":"transparent"},{"offset":0.6,"color":"transparent"},
{"offset":0.6,"color":"#555"},{"offset":0.605,"color":"#555"},{"offset":0.605,"color":"transparent"},{"offset":0.625,"color":"transparent"},
{"offset":0.625,"color":"#555"},{"offset":0.63,"color":"#555"},{"offset":0.63,"color":"transparent"},{"offset":0.65,"color":"transparent"},
{"offset":0.65,"color":"#555"},{"offset":0.655,"color":"#555"},{"offset":0.655,"color":"transparent"},{"offset":0.675,"color":"transparent"},
{"offset":0.675,"color":"#555"},{"offset":0.68,"color":"#555"},{"offset":0.68,"color":"transparent"},{"offset":0.7,"color":"transparent"},
{"offset":0.7,"color":"#555"},{"offset":0.705,"color":"#555"},{"offset":0.705,"color":"transparent"},{"offset":0.725,"color":"transparent"},
{"offset":0.725,"color":"#555"},{"offset":0.73,"color":"#555"},{"offset":0.73,"color":"transparent"},{"offset":0.75,"color":"transparent"},
{"offset":0.75,"color":"#555"},{"offset":0.755,"color":"#555"},{"offset":0.755,"color":"transparent"},{"offset":0.775,"color":"transparent"},
{"offset":0.775,"color":"#555"},{"offset":0.78,"color":"#555"},{"offset":0.78,"color":"transparent"},{"offset":0.8,"color":"transparent"},
{"offset":0.8,"color":"#555"},{"offset":0.805,"color":"#555"},{"offset":0.805,"color":"transparent"},{"offset":0.825,"color":"transparent"},
{"offset":0.825,"color":"#555"},{"offset":0.83,"color":"#555"},{"offset":0.83,"color":"transparent"},{"offset":0.85,"color":"transparent"},
{"offset":0.85,"color":"#555"},{"offset":0.855,"color":"#555"},{"offset":0.855,"color":"transparent"},{"offset":0.875,"color":"transparent"},
{"offset":0.875,"color":"#555"},{"offset":0.88,"color":"#555"},{"offset":0.88,"color":"transparent"},{"offset":0.9,"color":"transparent"},
{"offset":0.9,"color":"#555"},{"offset":0.905,"color":"#555"},{"offset":0.905,"color":"transparent"},{"offset":0.925,"color":"transparent"},
{"offset":0.925,"color":"#555"},{"offset":0.93,"color":"#555"},{"offset":0.93,"color":"transparent"},{"offset":0.95,"color":"transparent"},
{"offset":0.95,"color":"#555"},{"offset":0.955,"color":"#555"},{"offset":0.955,"color":"transparent"},{"offset":0.975,"color":"transparent"},
{"offset":0.975,"color":"#555"},{"offset":0.98,"color":"#555"},{"offset":0.98,"color":"transparent"},{"offset":1,"color":"transparent"}
]}},"encoding":{"x":{"field":"xe","type":"quantitative","axis":null},"y":{"field":"elo","type":"quantitative","axis":null},"y2":{"field":"ehi"}}},
{"data":{"values":[{}]},"mark":{"type":"rule","color":"#333333","strokeWidth":1},"encoding":{"y":{"datum":1,"type":"quantitative","axis":null}}},
{"data":{"name":"bins"},"mark":{"type":"rule","color":"#0000ff","strokeWidth":1,"clip":true},"encoding":{"x":{"field":"xlo","type":"quantitative","axis":null},"x2":{"field":"xhi"},"y":{"field":"rbh","type":"quantitative","axis":null}}},
{"data":{"name":"bins"},"mark":{"type":"rule","color":"#ff0000","strokeWidth":1,"clip":true},"encoding":{"x":{"field":"xlo","type":"quantitative","axis":null},"x2":{"field":"xhi"},"y":{"field":"rnn","type":"quantitative","axis":null}}},
{"data":{"name":"bins"},"mark":{"type":"point","shape":"square","filled":true,"color":"#0000ff","size":26,"opacity":1,"clip":true},"encoding":{"x":{"field":"x","type":"quantitative","axis":null},"y":{"field":"rbh","type":"quantitative","axis":null}}},
{"data":{"name":"bins"},"mark":{"type":"point","shape":"square","filled":true,"color":"#ff0000","size":32,"opacity":1,"clip":true},"encoding":{"x":{"field":"x","type":"quantitative","axis":null},"y":{"field":"rnn","type":"quantitative","axis":null}}},
{"data":{"name":"bins"},"transform":[{"filter":"datum.x > 3.6"}],"mark":{"type":"point","shape":"M0,1L0,-1M-0.45,-0.45L0,-1L0.45,-0.45","filled":false,"color":"#0000ff","strokeWidth":1.3,"size":110,"opacity":1,"xOffset":-1},"encoding":{"x":{"field":"x","type":"quantitative","axis":null},"y":{"datum":1.39,"type":"quantitative","axis":null}}},
{"data":{"name":"bins"},"transform":[{"filter":"datum.x > 3.6"}],"mark":{"type":"point","shape":"M0,1L0,-1M-0.45,-0.45L0,-1L0.45,-0.45","filled":false,"color":"#ff0000","strokeWidth":1.3,"size":110,"opacity":1,"xOffset":5},"encoding":{"x":{"field":"x","type":"quantitative","axis":null},"y":{"datum":1.39,"type":"quantitative","axis":null}}}
]
},
{
"width":290,"height":48,
"resolve":{"axis":{"x":"independent","y":"independent"}},
"layer":[
{"data":{"name":"bins"},"mark":{"type":"point","opacity":0},"encoding":{
"x":{"field":"x","type":"quantitative","scale":{"domain":[0,4.4],"nice":false,"zero":false},"axis":{"orient":"bottom","values":[0,0.5,1,1.5,2,2.5,3,3.5,4],"labels":false,"tickSize":-7,"title":null}},
"y":{"field":"rapy","type":"quantitative","scale":{"domain":[0.5,1.55],"nice":false,"zero":false},"axis":{"orient":"left","values":[0.6,0.8,1,1.2,1.4],"tickSize":-6,"labelPadding":11,"labelFontSize":9,"format":"~g","title":"Pred./Data","titleFontSize":9,"titlePadding":15}}}},
{"data":{"name":"bins"},"mark":{"type":"point","opacity":0},"encoding":{
"x":{"field":"x","type":"quantitative","axis":{"orient":"bottom","values":[0.1,0.2,0.3,0.4,0.6,0.7,0.8,0.9,1.1,1.2,1.3,1.4,1.6,1.7,1.8,1.9,2.1,2.2,2.3,2.4,2.6,2.7,2.8,2.9,3.1,3.2,3.3,3.4,3.6,3.7,3.8,3.9,4.1,4.2,4.3],"labels":false,"tickSize":-3.5,"title":null}},
"y":{"field":"rapy","type":"quantitative","axis":{"orient":"left","values":[0.55,0.65,0.7,0.75,0.85,0.9,0.95,1.05,1.1,1.15,1.25,1.3,1.35,1.45,1.5],"labels":false,"tickSize":-3,"title":null}}}},
{"data":{"name":"bins"},"mark":{"type":"point","opacity":0},"encoding":{
"x":{"field":"x","type":"quantitative","axis":{"orient":"top","values":[0,0.5,1,1.5,2,2.5,3,3.5,4],"labels":false,"tickSize":-7,"title":null}},
"y":{"field":"rapy","type":"quantitative","axis":{"orient":"right","values":[0.6,0.8,1,1.2,1.4],"labels":false,"tickSize":-6,"title":null}}}},
{"data":{"name":"bins"},"mark":{"type":"point","opacity":0},"encoding":{
"x":{"field":"x","type":"quantitative","axis":{"orient":"top","values":[0.1,0.2,0.3,0.4,0.6,0.7,0.8,0.9,1.1,1.2,1.3,1.4,1.6,1.7,1.8,1.9,2.1,2.2,2.3,2.4,2.6,2.7,2.8,2.9,3.1,3.2,3.3,3.4,3.6,3.7,3.8,3.9,4.1,4.2,4.3],"labels":false,"tickSize":-3.5,"title":null}},
"y":{"field":"rapy","type":"quantitative","axis":{"orient":"right","values":[0.55,0.65,0.7,0.75,0.85,0.9,0.95,1.05,1.1,1.15,1.25,1.3,1.35,1.45,1.5],"labels":false,"tickSize":-3,"title":null}}}},
{"data":{"name":"bins"},"mark":{"type":"rect","color":"#80e080","opacity":0.45,"clip":true},"encoding":{"x":{"field":"xlo","type":"quantitative","axis":null},"x2":{"field":"xhi"},"y":{"field":"s2lo","type":"quantitative","axis":null},"y2":{"field":"s2hi"}}},
{"data":{"name":"hatch"},"mark":{"type":"area","interpolate":"step-after","clip":true,"fill":{"gradient":"linear","x1":0,"y1":0,"x2":1.15,"y2":0.22,"stops":[
{"offset":0,"color":"#555"},{"offset":0.005,"color":"#555"},{"offset":0.005,"color":"transparent"},{"offset":0.025,"color":"transparent"},
{"offset":0.025,"color":"#555"},{"offset":0.03,"color":"#555"},{"offset":0.03,"color":"transparent"},{"offset":0.05,"color":"transparent"},
{"offset":0.05,"color":"#555"},{"offset":0.055,"color":"#555"},{"offset":0.055,"color":"transparent"},{"offset":0.075,"color":"transparent"},
{"offset":0.075,"color":"#555"},{"offset":0.08,"color":"#555"},{"offset":0.08,"color":"transparent"},{"offset":0.1,"color":"transparent"},
{"offset":0.1,"color":"#555"},{"offset":0.105,"color":"#555"},{"offset":0.105,"color":"transparent"},{"offset":0.125,"color":"transparent"},
{"offset":0.125,"color":"#555"},{"offset":0.13,"color":"#555"},{"offset":0.13,"color":"transparent"},{"offset":0.15,"color":"transparent"},
{"offset":0.15,"color":"#555"},{"offset":0.155,"color":"#555"},{"offset":0.155,"color":"transparent"},{"offset":0.175,"color":"transparent"},
{"offset":0.175,"color":"#555"},{"offset":0.18,"color":"#555"},{"offset":0.18,"color":"transparent"},{"offset":0.2,"color":"transparent"},
{"offset":0.2,"color":"#555"},{"offset":0.205,"color":"#555"},{"offset":0.205,"color":"transparent"},{"offset":0.225,"color":"transparent"},
{"offset":0.225,"color":"#555"},{"offset":0.23,"color":"#555"},{"offset":0.23,"color":"transparent"},{"offset":0.25,"color":"transparent"},
{"offset":0.25,"color":"#555"},{"offset":0.255,"color":"#555"},{"offset":0.255,"color":"transparent"},{"offset":0.275,"color":"transparent"},
{"offset":0.275,"color":"#555"},{"offset":0.28,"color":"#555"},{"offset":0.28,"color":"transparent"},{"offset":0.3,"color":"transparent"},
{"offset":0.3,"color":"#555"},{"offset":0.305,"color":"#555"},{"offset":0.305,"color":"transparent"},{"offset":0.325,"color":"transparent"},
{"offset":0.325,"color":"#555"},{"offset":0.33,"color":"#555"},{"offset":0.33,"color":"transparent"},{"offset":0.35,"color":"transparent"},
{"offset":0.35,"color":"#555"},{"offset":0.355,"color":"#555"},{"offset":0.355,"color":"transparent"},{"offset":0.375,"color":"transparent"},
{"offset":0.375,"color":"#555"},{"offset":0.38,"color":"#555"},{"offset":0.38,"color":"transparent"},{"offset":0.4,"color":"transparent"},
{"offset":0.4,"color":"#555"},{"offset":0.405,"color":"#555"},{"offset":0.405,"color":"transparent"},{"offset":0.425,"color":"transparent"},
{"offset":0.425,"color":"#555"},{"offset":0.43,"color":"#555"},{"offset":0.43,"color":"transparent"},{"offset":0.45,"color":"transparent"},
{"offset":0.45,"color":"#555"},{"offset":0.455,"color":"#555"},{"offset":0.455,"color":"transparent"},{"offset":0.475,"color":"transparent"},
{"offset":0.475,"color":"#555"},{"offset":0.48,"color":"#555"},{"offset":0.48,"color":"transparent"},{"offset":0.5,"color":"transparent"},
{"offset":0.5,"color":"#555"},{"offset":0.505,"color":"#555"},{"offset":0.505,"color":"transparent"},{"offset":0.525,"color":"transparent"},
{"offset":0.525,"color":"#555"},{"offset":0.53,"color":"#555"},{"offset":0.53,"color":"transparent"},{"offset":0.55,"color":"transparent"},
{"offset":0.55,"color":"#555"},{"offset":0.555,"color":"#555"},{"offset":0.555,"color":"transparent"},{"offset":0.575,"color":"transparent"},
{"offset":0.575,"color":"#555"},{"offset":0.58,"color":"#555"},{"offset":0.58,"color":"transparent"},{"offset":0.6,"color":"transparent"},
{"offset":0.6,"color":"#555"},{"offset":0.605,"color":"#555"},{"offset":0.605,"color":"transparent"},{"offset":0.625,"color":"transparent"},
{"offset":0.625,"color":"#555"},{"offset":0.63,"color":"#555"},{"offset":0.63,"color":"transparent"},{"offset":0.65,"color":"transparent"},
{"offset":0.65,"color":"#555"},{"offset":0.655,"color":"#555"},{"offset":0.655,"color":"transparent"},{"offset":0.675,"color":"transparent"},
{"offset":0.675,"color":"#555"},{"offset":0.68,"color":"#555"},{"offset":0.68,"color":"transparent"},{"offset":0.7,"color":"transparent"},
{"offset":0.7,"color":"#555"},{"offset":0.705,"color":"#555"},{"offset":0.705,"color":"transparent"},{"offset":0.725,"color":"transparent"},
{"offset":0.725,"color":"#555"},{"offset":0.73,"color":"#555"},{"offset":0.73,"color":"transparent"},{"offset":0.75,"color":"transparent"},
{"offset":0.75,"color":"#555"},{"offset":0.755,"color":"#555"},{"offset":0.755,"color":"transparent"},{"offset":0.775,"color":"transparent"},
{"offset":0.775,"color":"#555"},{"offset":0.78,"color":"#555"},{"offset":0.78,"color":"transparent"},{"offset":0.8,"color":"transparent"},
{"offset":0.8,"color":"#555"},{"offset":0.805,"color":"#555"},{"offset":0.805,"color":"transparent"},{"offset":0.825,"color":"transparent"},
{"offset":0.825,"color":"#555"},{"offset":0.83,"color":"#555"},{"offset":0.83,"color":"transparent"},{"offset":0.85,"color":"transparent"},
{"offset":0.85,"color":"#555"},{"offset":0.855,"color":"#555"},{"offset":0.855,"color":"transparent"},{"offset":0.875,"color":"transparent"},
{"offset":0.875,"color":"#555"},{"offset":0.88,"color":"#555"},{"offset":0.88,"color":"transparent"},{"offset":0.9,"color":"transparent"},
{"offset":0.9,"color":"#555"},{"offset":0.905,"color":"#555"},{"offset":0.905,"color":"transparent"},{"offset":0.925,"color":"transparent"},
{"offset":0.925,"color":"#555"},{"offset":0.93,"color":"#555"},{"offset":0.93,"color":"transparent"},{"offset":0.95,"color":"transparent"},
{"offset":0.95,"color":"#555"},{"offset":0.955,"color":"#555"},{"offset":0.955,"color":"transparent"},{"offset":0.975,"color":"transparent"},
{"offset":0.975,"color":"#555"},{"offset":0.98,"color":"#555"},{"offset":0.98,"color":"transparent"},{"offset":1,"color":"transparent"}
]}},"encoding":{"x":{"field":"xe","type":"quantitative","axis":null},"y":{"field":"elo","type":"quantitative","axis":null},"y2":{"field":"ehi"}}},
{"data":{"values":[{}]},"mark":{"type":"rule","color":"#333333","strokeWidth":1},"encoding":{"y":{"datum":1,"type":"quantitative","axis":null}}},
{"data":{"name":"bins"},"mark":{"type":"rule","color":"#ffaa33","strokeWidth":1,"clip":true},"encoding":{"x":{"field":"xlo","type":"quantitative","axis":null},"x2":{"field":"xhi"},"y":{"field":"rs14","type":"quantitative","axis":null}}},
{"data":{"name":"bins"},"mark":{"type":"line","color":"#006400","strokeDash":[2,1.5],"strokeWidth":1.5,"interpolate":"step","clip":true},"encoding":{"x":{"field":"x","type":"quantitative","axis":null},"y":{"field":"rs2l","type":"quantitative","axis":null}}},
{"data":{"name":"bins"},"mark":{"type":"point","shape":"triangle-up","filled":true,"color":"#ffa500","size":30,"opacity":1,"clip":true},"encoding":{"x":{"field":"x","type":"quantitative","axis":null},"y":{"field":"rs14","type":"quantitative","axis":null}}},
{"data":{"name":"bins"},"mark":{"type":"point","shape":"triangle-down","filled":true,"color":"#006400","size":30,"opacity":1,"clip":true},"encoding":{"x":{"field":"x","type":"quantitative","axis":null},"y":{"field":"rs2n","type":"quantitative","axis":null}}},
{"data":{"name":"bins"},"transform":[{"filter":"datum.x > 3.6"}],"mark":{"type":"point","shape":"M0,1L0,-1M-0.45,-0.45L0,-1L0.45,-0.45","filled":false,"color":"#006400","strokeWidth":1.3,"size":110,"opacity":1,"xOffset":-1},"encoding":{"x":{"field":"x","type":"quantitative","axis":null},"y":{"datum":1.34,"type":"quantitative","axis":null}}},
{"data":{"name":"bins"},"transform":[{"filter":"datum.x > 3.6"}],"mark":{"type":"point","shape":"M0,1L0,-1M-0.45,-0.45L0,-1L0.45,-0.45","filled":false,"color":"#ffa500","strokeWidth":1.3,"size":110,"opacity":1,"xOffset":5},"encoding":{"x":{"field":"x","type":"quantitative","axis":null},"y":{"datum":1.34,"type":"quantitative","axis":null}}}
]
},
{
"width":290,"height":48,
"resolve":{"axis":{"x":"independent","y":"independent"}},
"layer":[
{"data":{"name":"bins"},"mark":{"type":"point","opacity":0},"encoding":{
"x":{"field":"x","type":"quantitative","scale":{"domain":[0,4.4],"nice":false,"zero":false},"axis":{"orient":"bottom","values":[0,0.5,1,1.5,2,2.5,3,3.5,4],"labels":true,"format":"~g","tickSize":-7,"labelPadding":10,"title":"Second leading jet |y|","titleAnchor":"end","titlePadding":8}},
"y":{"field":"rapy","type":"quantitative","scale":{"domain":[0.5,1.55],"nice":false,"zero":false},"axis":{"orient":"left","values":[0.6,0.8,1,1.2,1.4],"tickSize":-6,"labelPadding":11,"labelFontSize":9,"format":"~g","title":"Pred./Data","titleFontSize":9,"titlePadding":15}}}},
{"data":{"name":"bins"},"mark":{"type":"point","opacity":0},"encoding":{
"x":{"field":"x","type":"quantitative","axis":{"orient":"bottom","values":[0.1,0.2,0.3,0.4,0.6,0.7,0.8,0.9,1.1,1.2,1.3,1.4,1.6,1.7,1.8,1.9,2.1,2.2,2.3,2.4,2.6,2.7,2.8,2.9,3.1,3.2,3.3,3.4,3.6,3.7,3.8,3.9,4.1,4.2,4.3],"labels":false,"tickSize":-3.5,"title":null}},
"y":{"field":"rapy","type":"quantitative","axis":{"orient":"left","values":[0.55,0.65,0.7,0.75,0.85,0.9,0.95,1.05,1.1,1.15,1.25,1.3,1.35,1.45,1.5],"labels":false,"tickSize":-3,"title":null}}}},
{"data":{"name":"bins"},"mark":{"type":"point","opacity":0},"encoding":{
"x":{"field":"x","type":"quantitative","axis":{"orient":"top","values":[0,0.5,1,1.5,2,2.5,3,3.5,4],"labels":false,"tickSize":-7,"title":null}},
"y":{"field":"rapy","type":"quantitative","axis":{"orient":"right","values":[0.6,0.8,1,1.2,1.4],"labels":false,"tickSize":-6,"title":null}}}},
{"data":{"name":"bins"},"mark":{"type":"point","opacity":0},"encoding":{
"x":{"field":"x","type":"quantitative","axis":{"orient":"top","values":[0.1,0.2,0.3,0.4,0.6,0.7,0.8,0.9,1.1,1.2,1.3,1.4,1.6,1.7,1.8,1.9,2.1,2.2,2.3,2.4,2.6,2.7,2.8,2.9,3.1,3.2,3.3,3.4,3.6,3.7,3.8,3.9,4.1,4.2,4.3],"labels":false,"tickSize":-3.5,"title":null}},
"y":{"field":"rapy","type":"quantitative","axis":{"orient":"right","values":[0.55,0.65,0.7,0.75,0.85,0.9,0.95,1.05,1.1,1.15,1.25,1.3,1.35,1.45,1.5],"labels":false,"tickSize":-3,"title":null}}}},
{"data":{"name":"bins"},"mark":{"type":"rect","color":"#66bbff","opacity":0.4,"clip":true},"encoding":{"x":{"field":"xlo","type":"quantitative","axis":null},"x2":{"field":"xhi"},"y":{"field":"aplo","type":"quantitative","axis":null},"y2":{"field":"aphi"}}},
{"data":{"name":"bins"},"mark":{"type":"rect","color":"#ff88cc","opacity":0.4,"clip":true},"encoding":{"x":{"field":"xlo","type":"quantitative","axis":null},"x2":{"field":"xhi"},"y":{"field":"ahlo","type":"quantitative","axis":null},"y2":{"field":"ahhi"}}},
{"data":{"name":"hatch"},"mark":{"type":"area","interpolate":"step-after","clip":true,"fill":{"gradient":"linear","x1":0,"y1":0,"x2":1.15,"y2":0.22,"stops":[
{"offset":0,"color":"#555"},{"offset":0.005,"color":"#555"},{"offset":0.005,"color":"transparent"},{"offset":0.025,"color":"transparent"},
{"offset":0.025,"color":"#555"},{"offset":0.03,"color":"#555"},{"offset":0.03,"color":"transparent"},{"offset":0.05,"color":"transparent"},
{"offset":0.05,"color":"#555"},{"offset":0.055,"color":"#555"},{"offset":0.055,"color":"transparent"},{"offset":0.075,"color":"transparent"},
{"offset":0.075,"color":"#555"},{"offset":0.08,"color":"#555"},{"offset":0.08,"color":"transparent"},{"offset":0.1,"color":"transparent"},
{"offset":0.1,"color":"#555"},{"offset":0.105,"color":"#555"},{"offset":0.105,"color":"transparent"},{"offset":0.125,"color":"transparent"},
{"offset":0.125,"color":"#555"},{"offset":0.13,"color":"#555"},{"offset":0.13,"color":"transparent"},{"offset":0.15,"color":"transparent"},
{"offset":0.15,"color":"#555"},{"offset":0.155,"color":"#555"},{"offset":0.155,"color":"transparent"},{"offset":0.175,"color":"transparent"},
{"offset":0.175,"color":"#555"},{"offset":0.18,"color":"#555"},{"offset":0.18,"color":"transparent"},{"offset":0.2,"color":"transparent"},
{"offset":0.2,"color":"#555"},{"offset":0.205,"color":"#555"},{"offset":0.205,"color":"transparent"},{"offset":0.225,"color":"transparent"},
{"offset":0.225,"color":"#555"},{"offset":0.23,"color":"#555"},{"offset":0.23,"color":"transparent"},{"offset":0.25,"color":"transparent"},
{"offset":0.25,"color":"#555"},{"offset":0.255,"color":"#555"},{"offset":0.255,"color":"transparent"},{"offset":0.275,"color":"transparent"},
{"offset":0.275,"color":"#555"},{"offset":0.28,"color":"#555"},{"offset":0.28,"color":"transparent"},{"offset":0.3,"color":"transparent"},
{"offset":0.3,"color":"#555"},{"offset":0.305,"color":"#555"},{"offset":0.305,"color":"transparent"},{"offset":0.325,"color":"transparent"},
{"offset":0.325,"color":"#555"},{"offset":0.33,"color":"#555"},{"offset":0.33,"color":"transparent"},{"offset":0.35,"color":"transparent"},
{"offset":0.35,"color":"#555"},{"offset":0.355,"color":"#555"},{"offset":0.355,"color":"transparent"},{"offset":0.375,"color":"transparent"},
{"offset":0.375,"color":"#555"},{"offset":0.38,"color":"#555"},{"offset":0.38,"color":"transparent"},{"offset":0.4,"color":"transparent"},
{"offset":0.4,"color":"#555"},{"offset":0.405,"color":"#555"},{"offset":0.405,"color":"transparent"},{"offset":0.425,"color":"transparent"},
{"offset":0.425,"color":"#555"},{"offset":0.43,"color":"#555"},{"offset":0.43,"color":"transparent"},{"offset":0.45,"color":"transparent"},
{"offset":0.45,"color":"#555"},{"offset":0.455,"color":"#555"},{"offset":0.455,"color":"transparent"},{"offset":0.475,"color":"transparent"},
{"offset":0.475,"color":"#555"},{"offset":0.48,"color":"#555"},{"offset":0.48,"color":"transparent"},{"offset":0.5,"color":"transparent"},
{"offset":0.5,"color":"#555"},{"offset":0.505,"color":"#555"},{"offset":0.505,"color":"transparent"},{"offset":0.525,"color":"transparent"},
{"offset":0.525,"color":"#555"},{"offset":0.53,"color":"#555"},{"offset":0.53,"color":"transparent"},{"offset":0.55,"color":"transparent"},
{"offset":0.55,"color":"#555"},{"offset":0.555,"color":"#555"},{"offset":0.555,"color":"transparent"},{"offset":0.575,"color":"transparent"},
{"offset":0.575,"color":"#555"},{"offset":0.58,"color":"#555"},{"offset":0.58,"color":"transparent"},{"offset":0.6,"color":"transparent"},
{"offset":0.6,"color":"#555"},{"offset":0.605,"color":"#555"},{"offset":0.605,"color":"transparent"},{"offset":0.625,"color":"transparent"},
{"offset":0.625,"color":"#555"},{"offset":0.63,"color":"#555"},{"offset":0.63,"color":"transparent"},{"offset":0.65,"color":"transparent"},
{"offset":0.65,"color":"#555"},{"offset":0.655,"color":"#555"},{"offset":0.655,"color":"transparent"},{"offset":0.675,"color":"transparent"},
{"offset":0.675,"color":"#555"},{"offset":0.68,"color":"#555"},{"offset":0.68,"color":"transparent"},{"offset":0.7,"color":"transparent"},
{"offset":0.7,"color":"#555"},{"offset":0.705,"color":"#555"},{"offset":0.705,"color":"transparent"},{"offset":0.725,"color":"transparent"},
{"offset":0.725,"color":"#555"},{"offset":0.73,"color":"#555"},{"offset":0.73,"color":"transparent"},{"offset":0.75,"color":"transparent"},
{"offset":0.75,"color":"#555"},{"offset":0.755,"color":"#555"},{"offset":0.755,"color":"transparent"},{"offset":0.775,"color":"transparent"},
{"offset":0.775,"color":"#555"},{"offset":0.78,"color":"#555"},{"offset":0.78,"color":"transparent"},{"offset":0.8,"color":"transparent"},
{"offset":0.8,"color":"#555"},{"offset":0.805,"color":"#555"},{"offset":0.805,"color":"transparent"},{"offset":0.825,"color":"transparent"},
{"offset":0.825,"color":"#555"},{"offset":0.83,"color":"#555"},{"offset":0.83,"color":"transparent"},{"offset":0.85,"color":"transparent"},
{"offset":0.85,"color":"#555"},{"offset":0.855,"color":"#555"},{"offset":0.855,"color":"transparent"},{"offset":0.875,"color":"transparent"},
{"offset":0.875,"color":"#555"},{"offset":0.88,"color":"#555"},{"offset":0.88,"color":"transparent"},{"offset":0.9,"color":"transparent"},
{"offset":0.9,"color":"#555"},{"offset":0.905,"color":"#555"},{"offset":0.905,"color":"transparent"},{"offset":0.925,"color":"transparent"},
{"offset":0.925,"color":"#555"},{"offset":0.93,"color":"#555"},{"offset":0.93,"color":"transparent"},{"offset":0.95,"color":"transparent"},
{"offset":0.95,"color":"#555"},{"offset":0.955,"color":"#555"},{"offset":0.955,"color":"transparent"},{"offset":0.975,"color":"transparent"},
{"offset":0.975,"color":"#555"},{"offset":0.98,"color":"#555"},{"offset":0.98,"color":"transparent"},{"offset":1,"color":"transparent"}
]}},"encoding":{"x":{"field":"xe","type":"quantitative","axis":null},"y":{"field":"elo","type":"quantitative","axis":null},"y2":{"field":"ehi"}}},
{"data":{"values":[{}]},"mark":{"type":"rule","color":"#333333","strokeWidth":1},"encoding":{"y":{"datum":1,"type":"quantitative","axis":null}}},
{"data":{"name":"bins"},"mark":{"type":"rule","color":"#1e90ff","strokeWidth":1,"clip":true},"encoding":{"x":{"field":"xlo","type":"quantitative","axis":null},"x2":{"field":"xhi"},"y":{"field":"rapy","type":"quantitative","axis":null}}},
{"data":{"name":"bins"},"mark":{"type":"rule","color":"#ff1493","strokeWidth":1,"clip":true},"encoding":{"x":{"field":"xlo","type":"quantitative","axis":null},"x2":{"field":"xhi"},"y":{"field":"rahw","type":"quantitative","axis":null}}},
{"data":{"name":"bins"},"mark":{"type":"point","shape":"diamond","filled":true,"color":"#1e90ff","size":34,"opacity":1,"clip":true},"encoding":{"x":{"field":"x","type":"quantitative","axis":null},"y":{"field":"rapy","type":"quantitative","axis":null}}},
{"data":{"name":"bins"},"mark":{"type":"point","shape":"M0,-1L0.235,-0.324L0.951,-0.309L0.38,0.124L0.588,0.809L0,0.4L-0.588,0.809L-0.38,0.124L-0.951,-0.309L-0.235,-0.324Z","filled":true,"color":"#ff1493","size":64,"opacity":1,"clip":true},"encoding":{"x":{"field":"x","type":"quantitative","axis":null},"y":{"field":"rahw","type":"quantitative","axis":null}}}
]
}
]
}
